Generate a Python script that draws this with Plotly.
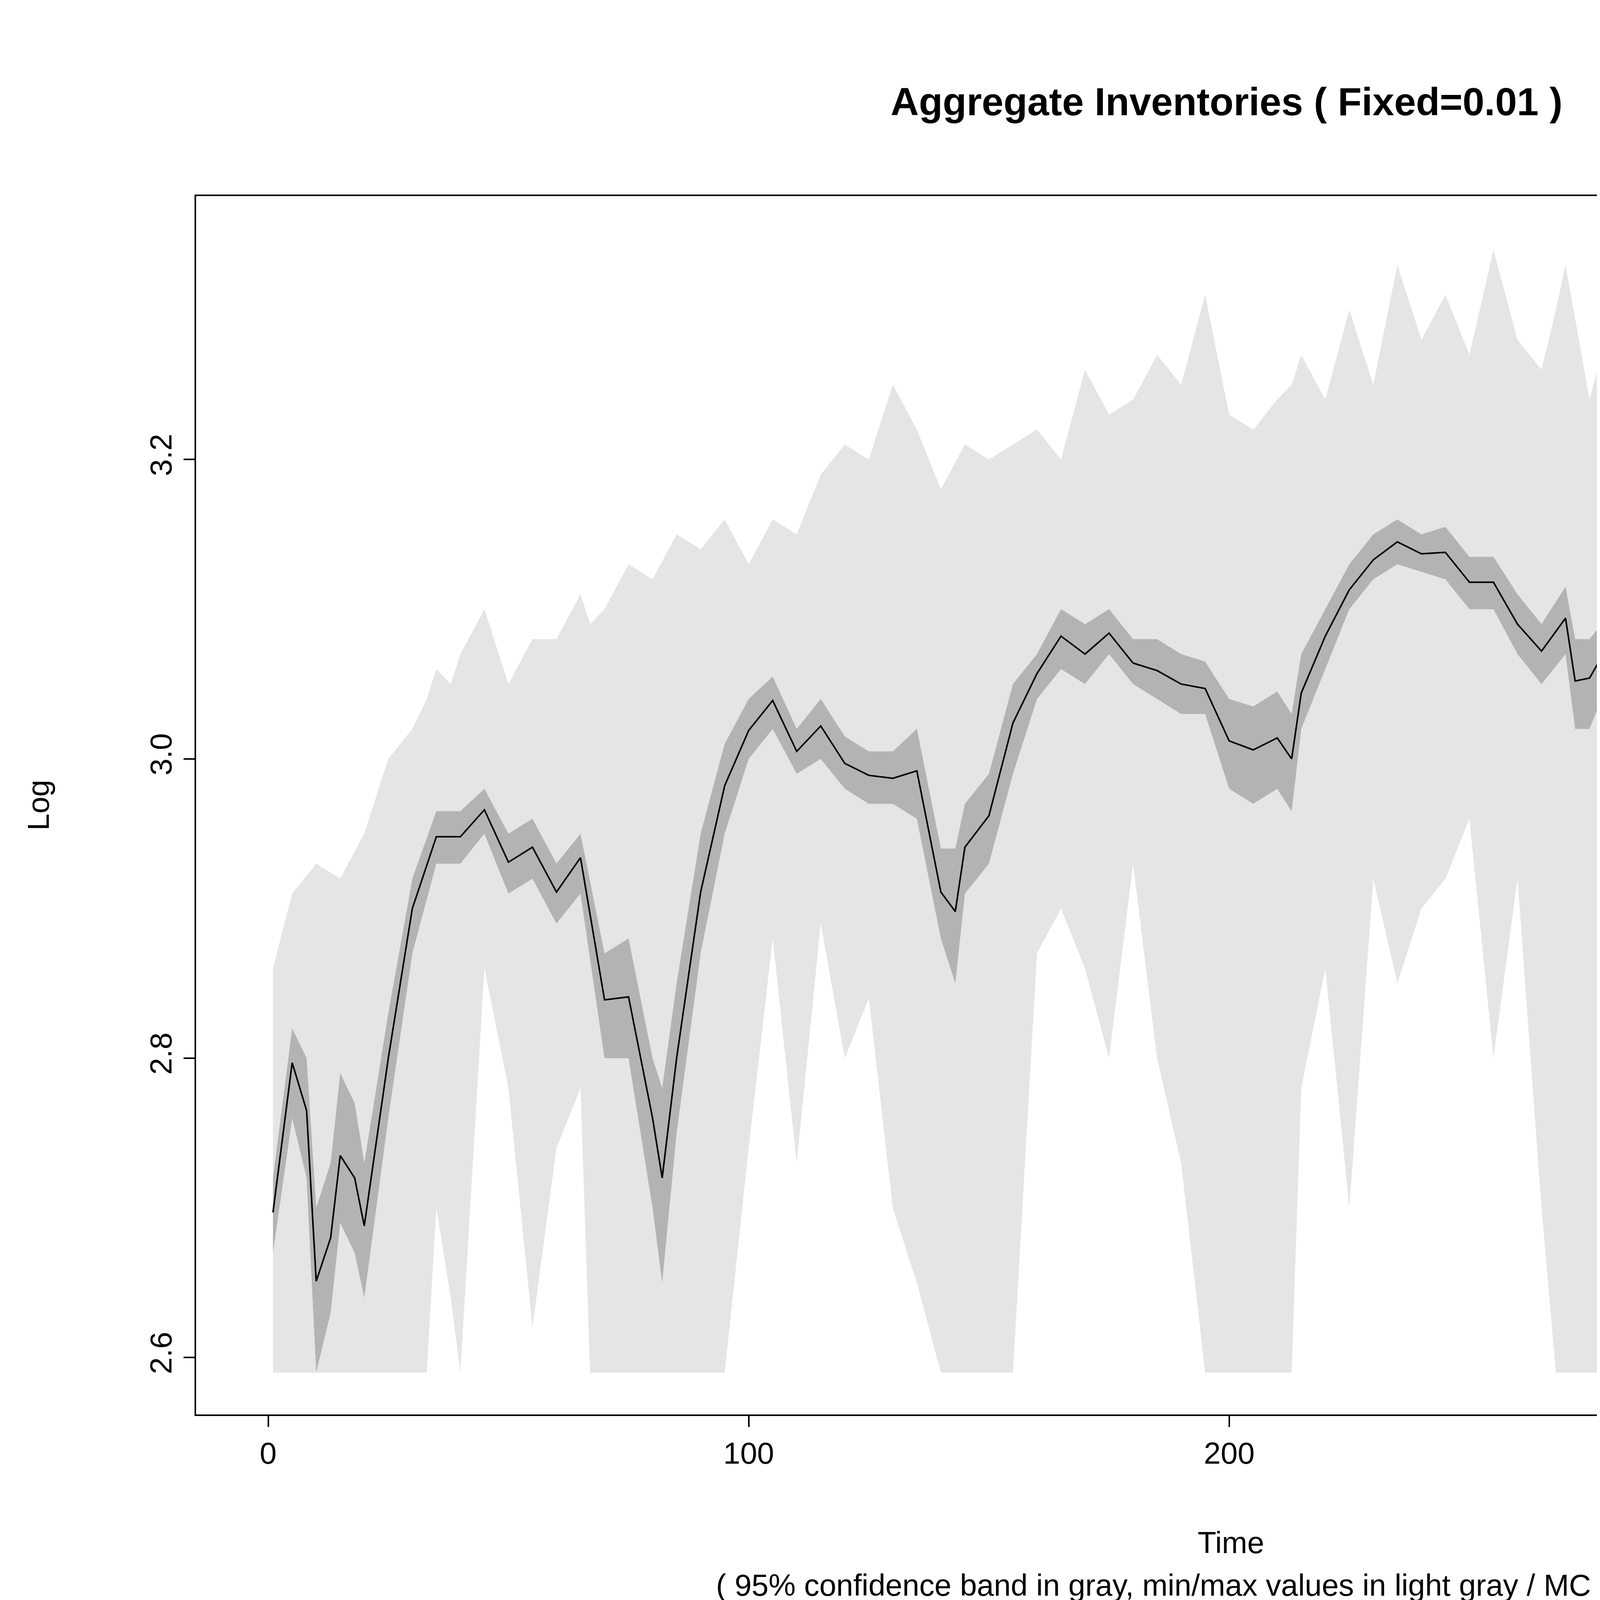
import plotly.graph_objects as go

# time grid for the mean and 95% band
t = [1, 5, 8, 10, 13, 15, 18, 20, 25, 30, 35, 40, 45, 50, 55, 60, 65, 70, 75, 80, 82, 85, 90, 95,
     100, 105, 110, 115, 120, 125, 130, 135, 140, 143, 145, 150, 155, 160, 165, 170, 175, 180,
     185, 190, 195, 200, 205, 210, 213, 215, 220, 225, 230, 235, 240, 245, 250, 255, 260, 265,
     270, 272, 275, 280, 285, 290, 295, 300, 305, 310, 315, 320, 325, 330, 333, 335, 340, 343,
     345, 350, 355, 360, 365, 370, 375, 380, 385, 390, 393, 395, 398, 400]
mean = [2.697, 2.797, 2.765, 2.651, 2.68, 2.735, 2.72, 2.688, 2.80, 2.90, 2.948, 2.948, 2.966,
        2.931, 2.941, 2.911, 2.934, 2.839, 2.841, 2.76, 2.72, 2.80, 2.911, 2.982, 3.019, 3.039,
        3.005, 3.022, 2.997, 2.989, 2.987, 2.992, 2.911, 2.898, 2.941, 2.962, 3.024, 3.057, 3.082,
        3.07, 3.084, 3.064, 3.059, 3.05, 3.047, 3.012, 3.006, 3.014, 3.0, 3.044, 3.082, 3.113,
        3.133, 3.145, 3.137, 3.138, 3.118, 3.118, 3.09, 3.072, 3.094, 3.052, 3.054, 3.082, 3.092,
        3.133, 3.146, 3.158, 3.163, 3.173, 3.18, 3.158, 3.135, 3.12, 3.082, 3.082, 3.122, 3.097,
        3.095, 3.143, 3.168, 3.20, 3.22, 3.21, 3.225, 3.213, 3.198, 3.173, 3.135, 3.143, 3.203, 3.181]
ci_lo = [2.67, 2.76, 2.72, 2.59, 2.63, 2.69, 2.67, 2.64, 2.76, 2.87, 2.93, 2.93, 2.95, 2.91, 2.92,
         2.89, 2.91, 2.80, 2.80, 2.70, 2.65, 2.75, 2.87, 2.95, 3.00, 3.02, 2.99, 3.00, 2.98, 2.97,
         2.97, 2.96, 2.88, 2.85, 2.91, 2.93, 2.99, 3.04, 3.06, 3.05, 3.07, 3.05, 3.04, 3.03, 3.03,
         2.98, 2.97, 2.98, 2.965, 3.02, 3.06, 3.10, 3.12, 3.13, 3.125, 3.12, 3.10, 3.10, 3.07, 3.05,
         3.07, 3.02, 3.02, 3.06, 3.07, 3.11, 3.13, 3.14, 3.15, 3.16, 3.165, 3.14, 3.11, 3.09, 3.05,
         3.05, 3.09, 3.06, 3.06, 3.11, 3.15, 3.18, 3.20, 3.19, 3.20, 3.195, 3.18, 3.14, 3.09, 3.10,
         3.17, 3.16]
ci_hi = [2.72, 2.82, 2.80, 2.70, 2.73, 2.79, 2.77, 2.73, 2.83, 2.92, 2.965, 2.965, 2.98, 2.95,
         2.96, 2.93, 2.95, 2.87, 2.88, 2.80, 2.78, 2.85, 2.95, 3.01, 3.04, 3.055, 3.02, 3.04, 3.015,
         3.005, 3.005, 3.02, 2.94, 2.94, 2.97, 2.99, 3.05, 3.07, 3.10, 3.09, 3.10, 3.08, 3.08, 3.07,
         3.065, 3.04, 3.035, 3.045, 3.03, 3.07, 3.10, 3.13, 3.15, 3.16, 3.15, 3.155, 3.135, 3.135,
         3.11, 3.09, 3.115, 3.08, 3.08, 3.10, 3.11, 3.15, 3.16, 3.175, 3.18, 3.19, 3.195, 3.175,
         3.155, 3.145, 3.11, 3.11, 3.14, 3.13, 3.125, 3.17, 3.19, 3.225, 3.245, 3.23, 3.245, 3.23,
         3.215, 3.195, 3.17, 3.18, 3.235, 3.21]

# time grid for the min/max envelope
tm = [1, 5, 10, 15, 20, 25, 30, 33, 35, 38, 40, 45, 50, 55, 60, 65, 67, 70, 75, 80, 85, 90, 95,
      100, 105, 110, 115, 120, 125, 130, 135, 140, 145, 150, 155, 160, 165, 170, 175, 180, 185,
      190, 195, 200, 205, 210, 213, 215, 220, 225, 230, 235, 240, 245, 250, 255, 260, 265, 268,
      270, 275, 280, 285, 290, 295, 300, 305, 310, 315, 318, 320, 325, 330, 335, 340, 345, 350,
      355, 360, 365, 370, 375, 380, 385, 390, 395, 398, 400]
vmax = [2.86, 2.91, 2.93, 2.92, 2.95, 3.00, 3.02, 3.04, 3.06, 3.05, 3.07, 3.10, 3.05, 3.08, 3.08,
        3.11, 3.09, 3.10, 3.13, 3.12, 3.15, 3.14, 3.16, 3.13, 3.16, 3.15, 3.19, 3.21, 3.20, 3.25,
        3.22, 3.18, 3.21, 3.20, 3.21, 3.22, 3.20, 3.26, 3.23, 3.24, 3.27, 3.25, 3.31, 3.23, 3.22,
        3.24, 3.25, 3.27, 3.24, 3.30, 3.25, 3.33, 3.28, 3.31, 3.27, 3.34, 3.28, 3.26, 3.30, 3.33,
        3.24, 3.30, 3.27, 3.31, 3.33, 3.35, 3.33, 3.35, 3.30, 3.32, 3.28, 3.35, 3.27, 3.30, 3.33,
        3.29, 3.35, 3.35, 3.35, 3.35, 3.35, 3.35, 3.35, 3.35, 3.35, 3.35, 3.35, 3.35]
vmin = [2.59, 2.59, 2.59, 2.59, 2.59, 2.59, 2.59, 2.59, 2.70, 2.64, 2.59, 2.86, 2.78, 2.62, 2.74,
        2.78, 2.59, 2.59, 2.59, 2.59, 2.59, 2.59, 2.59, 2.74, 2.88, 2.73, 2.89, 2.80, 2.84, 2.70,
        2.65, 2.59, 2.59, 2.59, 2.59, 2.87, 2.90, 2.86, 2.80, 2.93, 2.80, 2.73, 2.59, 2.59, 2.59,
        2.59, 2.59, 2.78, 2.86, 2.70, 2.92, 2.85, 2.90, 2.92, 2.96, 2.80, 2.92, 2.70, 2.59, 2.59,
        2.59, 2.59, 2.59, 2.82, 2.70, 2.96, 2.90, 3.02, 2.98, 2.59, 2.70, 2.75, 2.59, 2.59, 2.59,
        2.59, 2.59, 2.78, 2.78, 2.74, 2.95, 2.83, 2.90, 2.80, 2.59, 2.59, 2.59, 2.86]

font = "Liberation Sans, Arial, sans-serif"
fig = go.Figure()
fig.add_trace(go.Scatter(x=tm, y=vmin, mode="lines", line=dict(width=0), hoverinfo="skip"))
fig.add_trace(go.Scatter(x=tm, y=vmax, mode="lines", line=dict(width=0), fill="tonexty",
                         fillcolor="#E5E5E5"))
fig.add_trace(go.Scatter(x=t, y=ci_lo, mode="lines", line=dict(width=0)))
fig.add_trace(go.Scatter(x=t, y=ci_hi, mode="lines", line=dict(width=0), fill="tonexty",
                         fillcolor="#B3B3B3"))
fig.add_trace(go.Scatter(x=t, y=mean, mode="lines", line=dict(color="black", width=4)))

axis = dict(showline=True, linecolor="black", linewidth=4, mirror=True, ticks="outside",
            ticklen=28, tickwidth=4, tickcolor="black", showgrid=False, zeroline=False,
            tickfont=dict(family=font, size=78, color="black"))
fig.update_xaxes(range=[-15, 415.7], tickvals=[0, 100, 200, 300, 400], **axis)
fig.update_yaxes(range=[2.562, 3.376], tickvals=[2.6, 2.8, 3.0, 3.2], tickangle=-90,
                 tickformat=".1f", **axis)
fig.update_layout(
    width=6000, height=4200, showlegend=False,
    plot_bgcolor="white", paper_bgcolor="white",
    margin=dict(l=494, r=208, t=494, b=587),
    title=dict(text="<b>Aggregate Inventories ( Fixed=0.01 )</b>", x=0.522, xanchor="center",
               y=0.94, yanchor="middle", yref="container",
               font=dict(family=font, size=100, color="black")),
    annotations=[
        dict(text="Time", x=0.5, xref="paper", y=-0.12, yref="paper", showarrow=False,
             font=dict(family=font, size=78, color="black")),
        dict(text="( 95% confidence band in gray, min/max values in light gray / MC runs = 50 )",
             x=0.5, xref="paper", y=-0.155, yref="paper", showarrow=False,
             font=dict(family=font, size=78, color="black")),
        dict(text="Log", x=-0.085, xref="paper", y=0.5, yref="paper", showarrow=False,
             textangle=-90, font=dict(family=font, size=78, color="black")),
    ],
)
fig.write_html("out.html")
